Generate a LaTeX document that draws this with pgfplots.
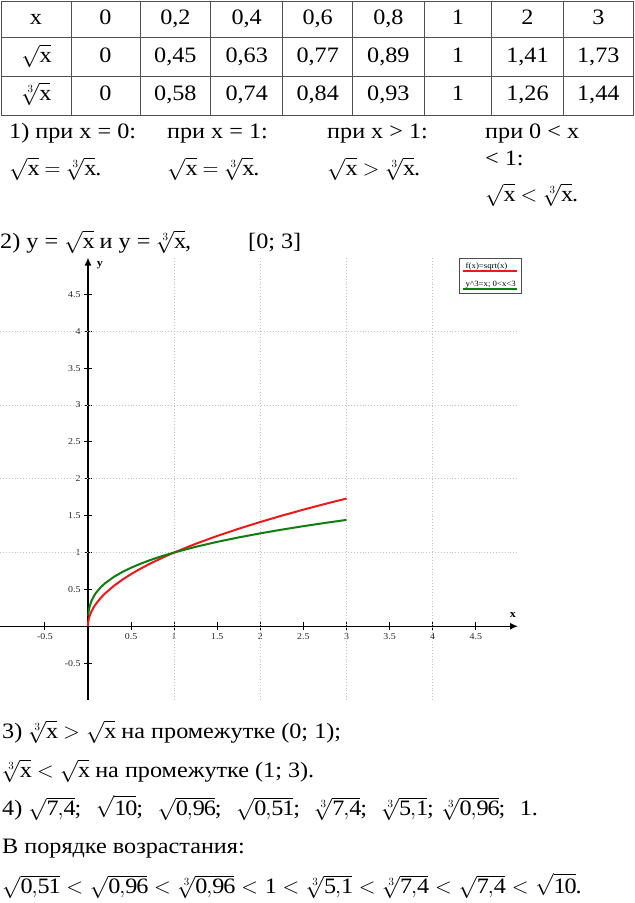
\RequirePackage{fix-cm}
\documentclass[border=0pt]{standalone}
\usepackage{fontspec}
\setmainfont{Liberation Serif}[FakeStretch=1.1]
\usepackage{pgfplots}
\pgfplotsset{compat=1.18}
\usetikzlibrary{arrows.meta}
\definecolor{cred}{RGB}{235,25,25}
\definecolor{cgreen}{RGB}{15,125,15}
\definecolor{gridc}{RGB}{195,195,195}
\definecolor{tabc}{RGB}{80,80,80}
\newcommand{\sx}{\sqrt{\mathrm{x}}}
\newcommand{\cx}{\sqrt[3]{\mathrm{x}}}
\newcommand{\n}[1]{\mathrm{#1}}
\newcommand{\gap}{\hspace{14.5pt}}
\begin{document}
\begin{tikzpicture}
\useasboundingbox (0,0) rectangle (635pt,-903pt);
\begin{scope}[x=1pt,y=-1pt, every node/.style={inner sep=0pt, font=\fontsize{22}{26}\selectfont}]
 % table grid
 \draw[tabc, line width=1pt] (1,1) rectangle (633.3,115);
 \foreach \y in {37,76} \draw[tabc, line width=1pt] (1,\y) -- (633.3,\y);
 \foreach \x in {71,140,210.7,282.7,352.7,424,491.7,563.3} \draw[tabc,line width=1pt] (\x,1) -- (\x,115);
 % row 1
 \node[anchor=base] at (36,24) {x};
 \node[anchor=base] at (105.5,24) {0};
 \node[anchor=base] at (175.4,24) {0,2};
 \node[anchor=base] at (246.7,24) {0,4};
 \node[anchor=base] at (317.7,24) {0,6};
 \node[anchor=base] at (388.4,24) {0,8};
 \node[anchor=base] at (457.9,24) {1};
 \node[anchor=base] at (527.5,24) {2};
 \node[anchor=base] at (598.3,24) {3};
 % row 2
 \node[anchor=base] at (36,62) {$\sx$};
 \node[anchor=base] at (105.5,62) {0};
 \node[anchor=base] at (175.4,62) {0,45};
 \node[anchor=base] at (246.7,62) {0,63};
 \node[anchor=base] at (317.7,62) {0,77};
 \node[anchor=base] at (388.4,62) {0,89};
 \node[anchor=base] at (457.9,62) {1};
 \node[anchor=base] at (527.5,62) {1,41};
 \node[anchor=base] at (598.3,62) {1,73};
 % row 3
 \node[anchor=base] at (36,100) {$\cx$};
 \node[anchor=base] at (105.5,100) {0};
 \node[anchor=base] at (175.4,100) {0,58};
 \node[anchor=base] at (246.7,100) {0,74};
 \node[anchor=base] at (317.7,100) {0,84};
 \node[anchor=base] at (388.4,100) {0,93};
 \node[anchor=base] at (457.9,100) {1};
 \node[anchor=base] at (527.5,100) {1,26};
 \node[anchor=base] at (598.3,100) {1,44};
 % part 1
 \node[anchor=base west] at (9,138) {1) при x = 0:};
 \node[anchor=base west] at (167,138) {при x = 1:};
 \node[anchor=base west] at (327,138) {при x > 1:};
 \node[anchor=base west] at (485,138) {при 0 < x};
 \node[anchor=base west] at (9,175) {$\sx=\cx$.};
 \node[anchor=base west] at (167,175) {$\sx=\cx$.};
 \node[anchor=base west] at (327,175) {$\sx>\cx$.};
 \node[anchor=base west] at (485,165) {< 1:};
 \node[anchor=base west] at (485,201) {$\sx<\cx$.};
 % part 2
 \node[anchor=base west] at (0,248) {2) y = $\sx$ и y = $\cx$,};
 \node[anchor=base west] at (248,248) {[0; 3]};
 % parts 3, 4
 \node[anchor=base west] at (2,738) {3) $\cx>\sx$ на промежутке (0; 1);};
 \node[anchor=base west] at (2,777) {$\cx<\sx$ на промежутке (1; 3).};
 \node[anchor=base west] at (2,815) {4) $\sqrt{\n{7{,}4}}$;\gap$\sqrt{\n{10}}$;\gap$\sqrt{\n{0{,}96}}$;\gap$\sqrt{\n{0{,}51}}$;\gap$\sqrt[3]{\n{7{,}4}}$;\gap$\sqrt[3]{\n{5{,}1}}$;\hspace{8pt}$\sqrt[3]{\n{0{,}96}}$;\gap 1.};
 \node[anchor=base west] at (2,853) {В порядке возрастания:};
 \node[anchor=base west] at (2,893) {\thickmuskip=5.6mu $\sqrt{\n{0{,}51}}<\sqrt{\n{0{,}96}}<\sqrt[3]{\n{0{,}96}}<\n{1}<\sqrt[3]{\n{5{,}1}}<\sqrt[3]{\n{7{,}4}}<\sqrt{\n{7{,}4}}<\sqrt{\n{10}}$.};
\end{scope}
\begin{axis}[
 at={(0pt,-700pt)}, anchor=south west,
 scale only axis, width=518pt, height=442.5pt,
 xmin=-1.021, xmax=4.99, ymin=-1.0, ymax=5.0,
 axis lines=middle,
 axis line style={line width=1.4pt, -{Latex[length=8pt,width=7pt]}},
 xtick={-0.5,0.5,1,1.5,2,2.5,3,3.5,4,4.5},
 ytick={-0.5,0.5,1,1.5,2,2.5,3,3.5,4,4.5},
 xticklabels={-0.5,0.5,1,1.5,2,2.5,3,3.5,4,4.5},
 yticklabels={-0.5,0.5,1,1.5,2,2.5,3,3.5,4,4.5},
 tick align=center, major tick length=8pt,
 tick style={black, line width=1pt},
 ticklabel style={font=\fontsize{9}{10}\selectfont, text=black!85},
 xlabel={\textbf{x}}, ylabel={\textbf{y}},
 xlabel style={at={(axis description cs:0.990,0.192)}, anchor=center, font=\fontsize{11}{12}\selectfont},
 ylabel style={at={(axis description cs:0.193,0.9825)}, anchor=center, rotate=0, font=\fontsize{11}{12}\selectfont},
 clip=false,
 legend style={at={(axis cs:4.30,5.0)}, anchor=north west, draw=black!70, fill=white,
   font=\fontsize{8}{9}\selectfont, inner xsep=3pt, inner ysep=3.5pt, row sep=7pt},
 legend cell align=left,
 legend image code/.code={\draw[#1, overlay] (0pt,-4.5pt) -- (54pt,-4.5pt); \path (0pt,0pt);},
]
 \draw[gridc, dotted, line width=0.9pt] (axis cs:1,-1) -- (axis cs:1,5);
 \draw[gridc, dotted, line width=0.9pt] (axis cs:2,-1) -- (axis cs:2,5);
 \draw[gridc, dotted, line width=0.9pt] (axis cs:3,-1) -- (axis cs:3,5);
 \draw[gridc, dotted, line width=0.9pt] (axis cs:4,-1) -- (axis cs:4,5);
 \draw[gridc, dotted, line width=0.9pt] (axis cs:-1.021,1) -- (axis cs:4.99,1);
 \draw[gridc, dotted, line width=0.9pt] (axis cs:-1.021,2) -- (axis cs:4.99,2);
 \draw[gridc, dotted, line width=0.9pt] (axis cs:-1.021,3) -- (axis cs:4.99,3);
 \draw[gridc, dotted, line width=0.9pt] (axis cs:-1.021,4) -- (axis cs:4.99,4);
 \addplot[cred, line width=2pt] coordinates {(0,0) (0.002,0.0447) (0.005,0.0707) (0.01,0.1) (0.02,0.1414) (0.04,0.2) (0.07,0.2646) (0.1,0.3162) (0.15,0.3873) (0.2,0.4472) (0.3,0.5477) (0.4,0.6325) (0.5,0.7071) (0.6,0.7746) (0.7,0.8367) (0.8,0.8944) (0.9,0.9487) (1,1) (1.25,1.1180) (1.5,1.2247) (1.75,1.3229) (2,1.4142) (2.25,1.5) (2.5,1.5811) (2.75,1.6583) (3,1.7321)};
 \addlegendentry{f(x)=sqrt(x)}
 \addplot[cgreen, line width=2pt] coordinates {(0.003,0.1442) (0.006,0.1817) (0.01,0.2154) (0.02,0.2714) (0.04,0.3420) (0.07,0.4121) (0.1,0.4642) (0.15,0.5313) (0.2,0.5848) (0.3,0.6694) (0.4,0.7368) (0.5,0.7937) (0.6,0.8434) (0.7,0.8879) (0.8,0.9283) (0.9,0.9655) (1,1) (1.25,1.0772) (1.5,1.1447) (1.75,1.2051) (2,1.2599) (2.25,1.3104) (2.5,1.3572) (2.75,1.4010) (3,1.4422)};
 \addlegendentry{y\^{}3=x; 0<x<3}
\end{axis}
\end{tikzpicture}
\end{document}
